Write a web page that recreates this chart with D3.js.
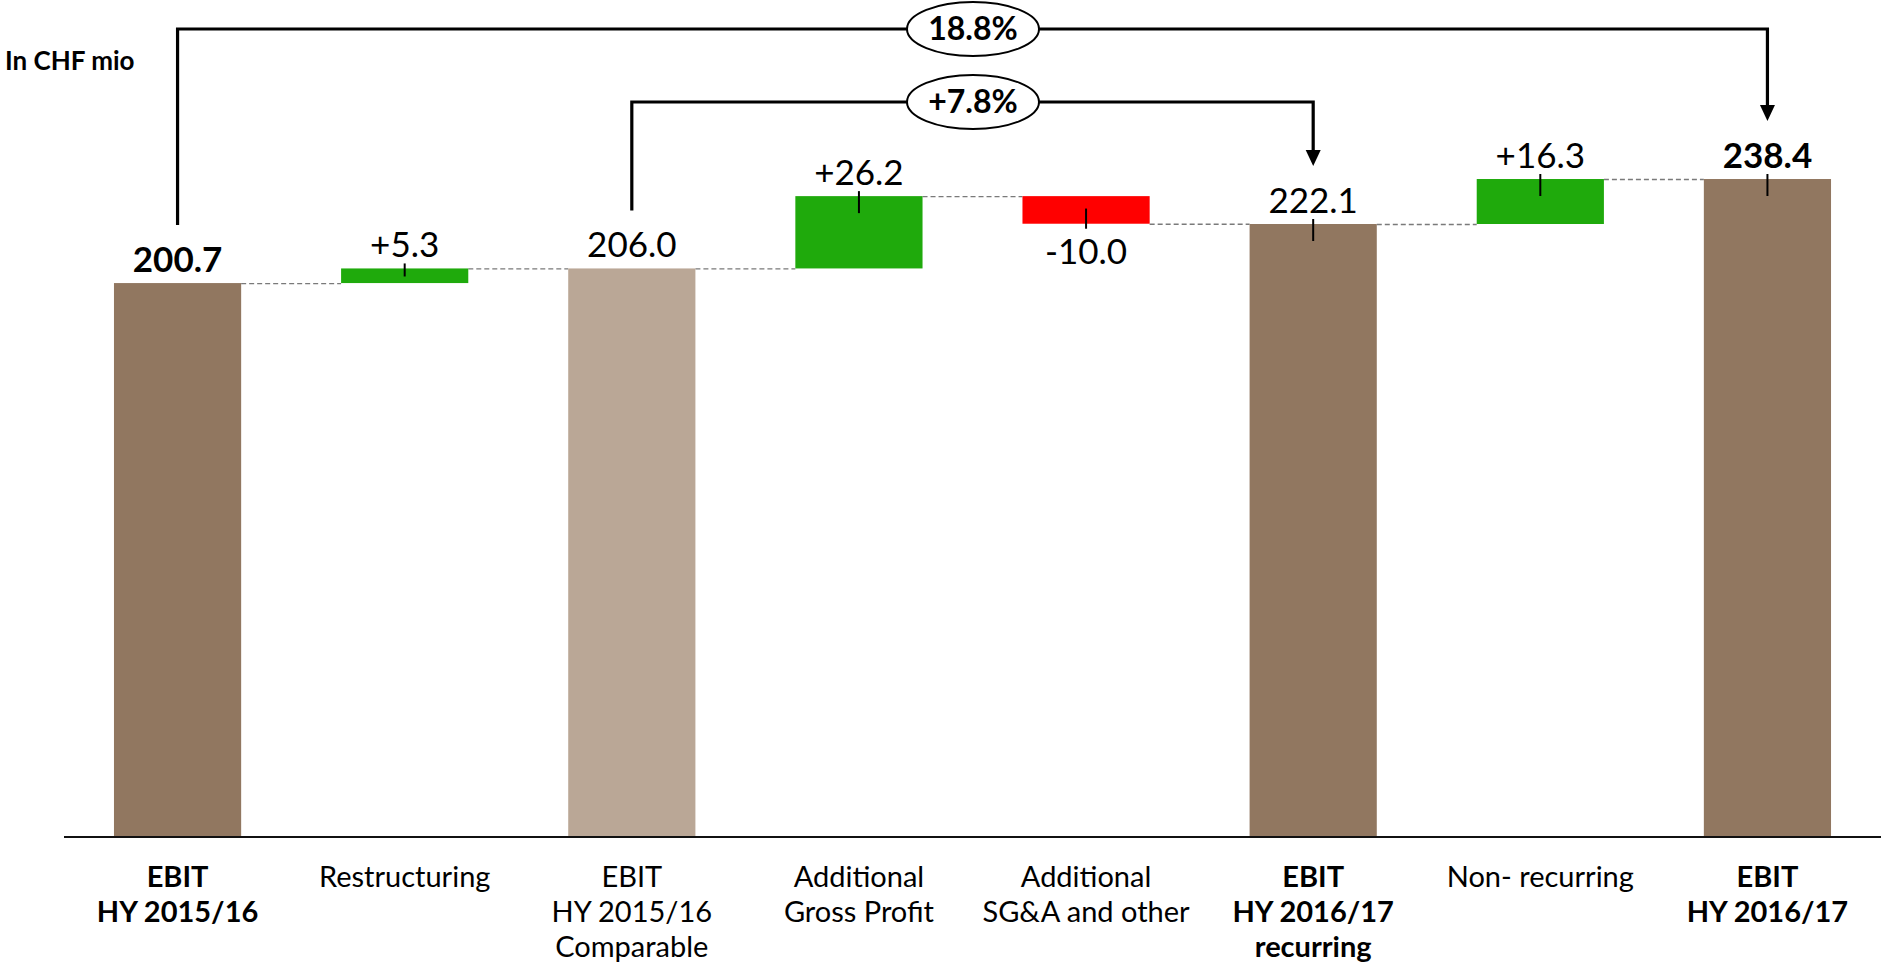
<!DOCTYPE html>
<html>
<head>
<meta charset="utf-8">
<script src="https://cdn.jsdelivr.net/npm/d3@7"></script>
<style>
  html, body { margin: 0; padding: 0; background: #fff; }
  svg { display: block; }
  text { font-family: Lato, "Open Sans", sans-serif; fill: #000; }
</style>
</head>
<body>
<svg id="chart" width="1881" height="968"></svg>
<script>
// EBIT bridge, CHF mio
const categories = [
  ["EBIT", "HY 2015/16"],
  ["Restructuring"],
  ["EBIT", "HY 2015/16", "Comparable"],
  ["Additional", "Gross Profit"],
  ["Additional", "SG&A and other"],
  ["EBIT", "HY 2016/17", "recurring"],
  ["Non- recurring"],
  ["EBIT", "HY 2016/17"]
];
const kinds = ["total", "delta", "total", "delta", "delta", "total", "delta", "total"];
const values = [200.7, 5.3, 206.0, 26.2, -10.0, 222.1, 16.3, 238.4];
const valueLabels = ["200.7", "+5.3", "206.0", "+26.2", "-10.0", "222.1", "+16.3", "238.4"];
const boldCategories = [true, false, false, false, false, true, false, true];
const boldValues = [true, false, false, false, false, false, false, true];
const markerItems = [false, true, false, true, true, true, true, true];
const barColors = ["#917760", "#1faa0c", "#baa796", "#1faa0c", "#ff0000", "#917760", "#1faa0c", "#917760"];

const bracketFrom = [0, 2];
const bracketTo = [7, 5];
const bracketLabels = ["18.8%", "+7.8%"];
const bracketLevels = [29, 102];

const unitLabel = "In CHF mio";

const svg = d3.select("#chart");

const x = d3.scaleBand()
  .domain(d3.range(categories.length))
  .range([64, 1881])
  .paddingInner(0.44)
  .paddingOuter(0.22);

const y = d3.scaleLinear().domain([0, 250]).range([837, 147]);

// running totals -> bar extents
let running = 0;
const bars = values.map((v, i) => {
  let start, end;
  if (kinds[i] === "total") { start = 0; end = v; running = v; }
  else { start = running; end = running + v; running = end; }
  return { i, start, end, v };
});

// dashed connectors between consecutive bars
const conn = svg.append("g");
for (let i = 0; i < bars.length - 1; i++) {
  const lvl = bars[i].end;
  conn.append("line")
    .attr("x1", x(i) + x.bandwidth())
    .attr("x2", x(i + 1))
    .attr("y1", y(lvl) + 0.5)
    .attr("y2", y(lvl) + 0.5)
    .attr("stroke", "#7a7a7a")
    .attr("stroke-width", 1.3)
    .attr("stroke-dasharray", "5,3");
}

// bars
svg.append("g").selectAll("rect")
  .data(bars)
  .join("rect")
  .attr("x", d => x(d.i))
  .attr("width", x.bandwidth())
  .attr("y", d => y(Math.max(d.start, d.end)))
  .attr("height", d => Math.abs(y(d.start) - y(d.end)))
  .attr("fill", d => barColors[d.i]);

// small markers at bar ends
svg.append("g").selectAll("line")
  .data(bars.filter(d => markerItems[d.i]))
  .join("line")
  .attr("x1", d => x(d.i) + x.bandwidth() / 2)
  .attr("x2", d => x(d.i) + x.bandwidth() / 2)
  .attr("y1", d => {
    const ye = y(d.end);
    return d.end >= d.start ? ye - 5 : ye + 5;
  })
  .attr("y2", d => {
    const ye = y(d.end);
    const h = Math.abs(y(d.start) - y(d.end));
    const inward = Math.min(17, h * 0.55);
    return d.end >= d.start ? ye + inward : ye - inward;
  })
  .attr("stroke", "#000")
  .attr("stroke-width", 2);

// baseline
svg.append("line")
  .attr("x1", 64).attr("x2", 1881)
  .attr("y1", y(0)).attr("y2", y(0))
  .attr("stroke", "#111").attr("stroke-width", 2.2);

// value labels
svg.append("g").selectAll("text")
  .data(bars)
  .join("text")
  .attr("x", d => x(d.i) + x.bandwidth() / 2)
  .attr("y", d => d.end >= d.start ? y(d.end) - 11 : y(d.end) + 40)
  .attr("text-anchor", "middle")
  .style("font-size", "35px")
  .style("font-weight", d => boldValues[d.i] ? 700 : 400)
  .text(d => valueLabels[d.i]);

// category labels
const cat = svg.append("g").selectAll("text")
  .data(categories.map((c, i) => ({ c, i })))
  .join("text")
  .attr("x", d => x(d.i) + x.bandwidth() / 2)
  .attr("y", 887)
  .attr("text-anchor", "middle")
  .style("font-size", "29px")
  .style("font-weight", d => boldCategories[d.i] ? 700 : 400);
cat.selectAll("tspan")
  .data(d => d.c)
  .join("tspan")
  .attr("x", function () { return d3.select(this.parentNode).attr("x"); })
  .attr("dy", (d, k) => k === 0 ? 0 : 35)
  .text(d => d);

// unit label
svg.append("text")
  .attr("x", 5).attr("y", 70)
  .style("font-size", "26px")
  .style("font-weight", 700)
  .text(unitLabel);

// growth brackets
const bg = svg.append("g");
bracketLabels.forEach((lab, k) => {
  const a = bracketFrom[k], b = bracketTo[k];
  const xa = x(a) + x.bandwidth() / 2;
  const xb = x(b) + x.bandwidth() / 2;
  const lvl = bracketLevels[k];
  const ya = y(bars[a].end) - 58;
  const yb = y(bars[b].end) - 58;
  bg.append("path")
    .attr("d", `M${xa},${ya} V${lvl} H${xb} V${yb - 14}`)
    .attr("fill", "none")
    .attr("stroke", "#000")
    .attr("stroke-width", 3.2);
  bg.append("path")
    .attr("d", `M${xb - 7.5},${yb - 16} L${xb + 7.5},${yb - 16} L${xb},${yb} Z`)
    .attr("fill", "#000");
  const cx = 973;
  bg.append("ellipse")
    .attr("cx", cx).attr("cy", lvl)
    .attr("rx", 66).attr("ry", 27)
    .attr("fill", "#fff")
    .attr("stroke", "#000")
    .attr("stroke-width", 2);
  bg.append("text")
    .attr("x", cx).attr("y", lvl + 11)
    .attr("text-anchor", "middle")
    .style("font-size", "32px")
    .style("font-weight", 700)
    .text(lab);
});
</script>
</body>
</html>
